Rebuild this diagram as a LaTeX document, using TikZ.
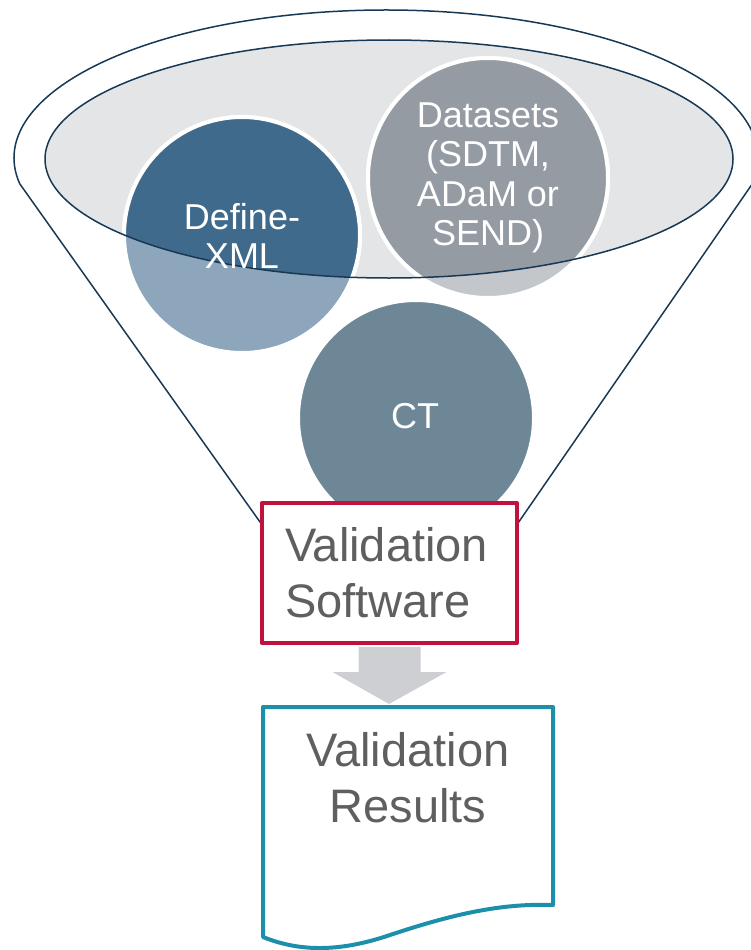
\documentclass[tikz,border=0pt]{standalone}
\usepackage{fontspec}
\setmainfont{Liberation Sans}
\usetikzlibrary{calc}

\definecolor{funnelline}{RGB}{23,57,86}
\definecolor{innergray}{RGB}{228,229,231}
\definecolor{defdark}{RGB}{63,106,140}
\definecolor{deflight}{RGB}{141,166,187}
\definecolor{datdark}{RGB}{149,155,163}
\definecolor{datlight}{RGB}{195,198,203}
\definecolor{ctblue}{RGB}{110,135,150}
\definecolor{softred}{RGB}{192,17,63}
\definecolor{arrowgray}{RGB}{205,207,211}
\definecolor{resteal}{RGB}{28,144,170}
\definecolor{txtgray}{RGB}{95,95,95}

\begin{document}
\begin{tikzpicture}[line cap=round,line join=round,x=1pt,y=-1pt,
  circtxt/.style={text=white,align=center,inner sep=0pt,font=\fontsize{36}{39.5}\selectfont},
  bigtxt/.style={text=txtgray,font=\fontsize{47}{56}\selectfont},
  ring/.style={draw=white,line width=4pt}]
\useasboundingbox (0,0) rectangle (750,950);

% top of the funnel
\fill[innergray] (389,159) ellipse [x radius=344, y radius=119];
\filldraw[fill=deflight,ring] (242,235) circle (118);
\filldraw[fill=datlight,ring] (488,178) circle (120);
\begin{scope}
\clip (389,159) ellipse [x radius=344, y radius=119];
\filldraw[fill=defdark,ring] (242,235) circle (118);
\filldraw[fill=datdark,ring] (488,178) circle (120);
\end{scope}
\filldraw[fill=ctblue,ring] (416,418) circle (118);
\draw[funnelline,line width=1.5pt] (389,159) ellipse [x radius=344, y radius=119];
\draw[funnelline,line width=1.5pt] (287,560) -- (19.7,183.7)
  arc [start angle=170, end angle=370, x radius=372, y radius=148] -- (492.5,560);

\node[circtxt] (defxml) at (242,236) {Define-\\XML};
\node[circtxt] (datasets) at (488,178) {Datasets\\(SDTM,\\ADaM or\\SEND)};
\node[circtxt] (ct) at (415,416) {CT};

% software and results
\node[bigtxt,draw=softred,line width=4pt,fill=white,minimum width=255pt,minimum height=140pt,
  inner xsep=23pt,text width=209pt,align=left] (soft) at (389.5,573) {Validation\\Software};
\coordinate (restop) at (389,704);
\fill[arrowgray] ($(soft.south)+(-31,2)$) -- ($(soft.south)+(31,2)$) -- ($(soft.south)+(31,27)$)
  -- ($(soft.south)+(57,27)$) -- (restop) -- ($(soft.south)+(-57,27)$) -- ($(soft.south)+(-31,27)$) -- cycle;

\draw[resteal,line width=4pt] (263,707) -- (553,707) -- (553,905)
  .. controls (500,903) and (450,915) .. (390,935)
  .. controls (340,952) and (300,952) .. (263,937) -- cycle;
\node[bigtxt,align=center] (results) at (408,778) {Validation\\Results};
\end{tikzpicture}
\end{document}
